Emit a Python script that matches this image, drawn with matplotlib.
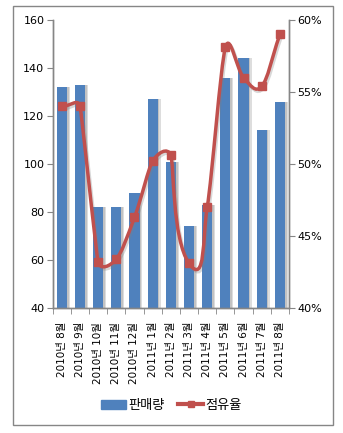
import numpy as np
import matplotlib
matplotlib.use('Agg')
import matplotlib.pyplot as plt
from matplotlib.path import Path
from matplotlib.patches import PathPatch, Rectangle
from matplotlib.lines import Line2D
from matplotlib.ticker import FixedLocator, FuncFormatter

plt.rcParams['font.family'] = ['DejaVu Sans', 'Noto Sans CJK KR']

# data
months = ['2010년 8월', '2010년 9월', '2010년 10월', '2010년 11월', '2010년 12월',
          '2011년 1월', '2011년 2월', '2011년 3월', '2011년 4월', '2011년 5월',
          '2011년 6월', '2011년 7월', '2011년 8월']
sales = [132, 133, 82, 82, 88, 127, 101, 74, 83, 136, 144, 114, 126]
share = [54.0, 54.0, 43.2, 43.4, 46.3, 50.2, 50.6, 43.1, 47.0, 58.1, 56.0, 55.4, 59.0]

BAR_COLOR = '#4F81BD'
LINE_COLOR = '#C0504D'
AXIS_COLOR = '#868686'


def smooth_path(xs, ys, sx=18.2, sy=14.4, t=0.5):
    """Excel-like smoothed line. Tangents are worked out in (roughly) pixel
    space; each point's control arms are limited by its shorter neighbouring
    segment so steep runs stay straight and flat steps barely overshoot."""
    pts = np.column_stack([np.asarray(xs) * sx, np.asarray(ys) * sy]).astype(float)
    n = len(pts)
    segs = np.hypot(*np.diff(pts, axis=0).T)
    tang, arm = [], []
    for i in range(n):
        a = pts[i - 1] if i > 0 else pts[i]
        b = pts[i + 1] if i + 1 < n else pts[i]
        d = b - a
        tang.append(d / (np.hypot(*d) or 1.0))
        near = [segs[j] for j in (i - 1, i) if 0 <= j < n - 1]
        arm.append(t * min(near))
    verts = [pts[0]]
    codes = [Path.MOVETO]
    for i in range(n - 1):
        verts += [pts[i] + tang[i] * arm[i], pts[i + 1] - tang[i + 1] * arm[i + 1], pts[i + 1]]
        codes += [Path.CURVE4] * 3
    verts = np.array(verts) / [sx, sy]
    return Path(verts, codes)


fig = plt.figure(figsize=(3.43, 4.33), dpi=100)
ax = fig.add_axes([0.1536, 0.2887, 0.6890, 0.6651])
ax2 = ax.twinx()

x = np.arange(len(months))
width = 0.56

# soft shadow behind bars
ax.bar(x + 0.16, np.array(sales) - 40, width, bottom=40, color='#a0a0a0', alpha=0.35, zorder=1)
ax.bar(x + 0.09, np.array(sales) - 40, width, bottom=40, color='#909090', alpha=0.35, zorder=1)
ax.bar(x, np.array(sales) - 40, width, bottom=40, color=BAR_COLOR, zorder=2)

ax.set_xlim(-0.5, len(months) - 0.5)
ax.set_ylim(40, 160)
ax.set_yticks(range(40, 161, 20))

# share line on the right axis
ax2.set_ylim(40, 60)
ax2.set_yticks(range(40, 61, 5))
ax2.yaxis.set_major_formatter(FuncFormatter(lambda v, p: f'{int(v)}%'))
shadow = PathPatch(smooth_path(x + 0.08, np.array(share) - 0.15), facecolor='none',
                   edgecolor='#808080', lw=2.5, alpha=0.3, zorder=2)
ax2.add_patch(shadow)
curve = PathPatch(smooth_path(x, share), facecolor='none', edgecolor=LINE_COLOR,
                  lw=2.5, capstyle='round', joinstyle='round', zorder=3)
ax2.add_patch(curve)
ax2.plot(x, share, linestyle='none', marker='s', markersize=5.2,
         color=LINE_COLOR, zorder=4)

# axes styling
for a in (ax, ax2):
    a.spines['top'].set_visible(False)
    for s in ('left', 'right', 'bottom'):
        a.spines[s].set_color(AXIS_COLOR)
        a.spines[s].set_linewidth(1.0)
ax.tick_params(axis='y', direction='out', length=4, color=AXIS_COLOR,
               labelsize=8, pad=2)
ax2.tick_params(axis='y', direction='out', length=4, color=AXIS_COLOR,
                labelsize=8, pad=2)

ax.set_xticks(x)
ax.set_xticklabels(months, rotation=90, fontsize=7.5, va='top', ha='center')
ax.tick_params(axis='x', which='major', length=0, pad=10)
ax.xaxis.set_minor_locator(FixedLocator(np.arange(-0.5, len(months), 1.0)))
ax.tick_params(axis='x', which='minor', direction='out', length=4, color=AXIS_COLOR)

# legend
handles = [Rectangle((0, 0), 1, 1, color=BAR_COLOR),
           Line2D([0], [0], color=LINE_COLOR, lw=3, marker='s', markersize=4.5)]
fig.legend(handles, ['판매량', '점유율'], loc='center', bbox_to_anchor=(0.5, 0.064),
           ncol=2, frameon=False, fontsize=9.5, handlelength=1.9, handletextpad=0.2,
           columnspacing=1.0)

# outer chart border
fig.patches.append(Rectangle((12.5 / 343, 1 - 424.5 / 433), 320.5 / 343, 418.5 / 433,
                             transform=fig.transFigure, fill=False,
                             edgecolor=AXIS_COLOR, lw=1.0))

fig.savefig('out.png', dpi=100)
